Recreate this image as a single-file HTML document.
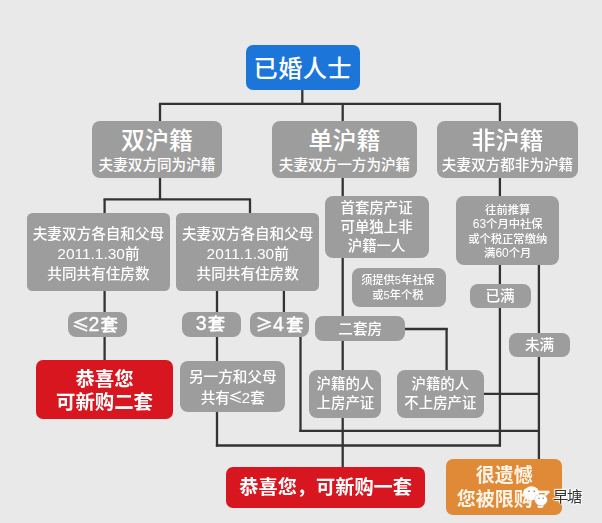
<!DOCTYPE html>
<html lang="zh-CN">
<head>
<meta charset="utf-8">
<title>已婚人士购房流程</title>
<style>
html,body{margin:0;padding:0;}
body{width:602px;height:523px;overflow:hidden;background:#e9e9e9;position:relative;font-family:"Liberation Sans", "Noto Sans CJK SC", sans-serif;}
.bx{position:absolute;box-sizing:border-box;color:#fff;text-align:center;border-radius:7px;display:flex;flex-direction:column;align-items:center;justify-content:center;white-space:nowrap;}
.c{font-family:"Noto Sans CJK SC",sans-serif;}
.g{background:#9d9d9d;}
.blue{background:#1c75d8;border-radius:7px;}
.red{background:#d8161f;}
.org{background:#e08a38;}
.bx>div{position:relative;}
.g{font-weight:500;border-radius:8px;}
.g.m{border-radius:5.5px;}
.d{font-size:1.06em;}
.t0{font-size:24.2px;font-weight:500;letter-spacing:0.4px;line-height:30px;top:1.3px;left:0px;}
.t1{font-size:24px;font-weight:500;line-height:27px;top:0.5px;}
.t2{font-size:14.6px;line-height:20px;top:1.8px;}
.m>div{font-size:14.6px;line-height:20px;top:1.7px;}
.m2>div{font-size:14.4px;line-height:19px;top:0.5px;}
.s>div{font-size:11.2px;line-height:15px;top:0.5px;left:-1.2px;}
.s2>div{font-size:11.3px;line-height:14.4px;top:1.2px;}
.n>div{font-size:17.4px;line-height:23px;top:0px;left:-1px;font-weight:500;-webkit-text-stroke:0.35px #fff;}
.n2>div{font-size:14.6px;line-height:23px;top:0.9px;}
.d2{font-size:1.12em;margin-right:1px;}
.m .c{margin-left:-1.8px;margin-right:-1.2px;}
.n .c{margin-left:-2.5px;margin-right:-0.8px;}
.ge .c{margin-right:0.2px;}
.ge .d2{margin-right:2.2px;}
.n.ge>div{left:0.9px;}
.b>div{font-size:19.4px;font-weight:700;line-height:23.3px;top:1.2px;}
.org.b>div{top:0.4px;font-size:19px;color:#fdf4e8;}
.b1>div{font-size:19.2px;font-weight:700;line-height:40px;top:0.5px;}
svg{position:absolute;left:0;top:0;}
#wrap{position:absolute;left:0;top:0;width:602px;height:523px;filter:blur(0.45px);}
.wm{position:absolute;left:553px;top:487px;font-size:15.3px;letter-spacing:-1.2px;line-height:20px;color:#333;text-shadow:0 0 2px #fff,0 0 2px #fff,1px 1px 1px #fff,-1px -1px 1px #fff;}
</style>
</head>
<body>
<div id="wrap">
<svg width="602" height="523" viewBox="0 0 602 523">
<g stroke="#333333" stroke-width="2.3" fill="none" stroke-linecap="butt">
<line x1="302.3" y1="89" x2="302.3" y2="104"/>
<line x1="158.9" y1="103.8" x2="501" y2="103.8"/>
<line x1="160" y1="103.8" x2="160" y2="122"/>
<line x1="342.7" y1="103.8" x2="342.7" y2="122"/>
<line x1="499.9" y1="103.8" x2="499.9" y2="122"/>
<line x1="160" y1="177" x2="160" y2="199.3"/>
<line x1="103.5" y1="199.3" x2="251" y2="199.3"/>
<line x1="104.6" y1="199.3" x2="104.6" y2="214"/>
<line x1="250" y1="199.3" x2="250" y2="214"/>
<line x1="104.6" y1="290" x2="104.6" y2="362"/>
<line x1="217" y1="290" x2="217" y2="446.6"/>
<line x1="215.9" y1="445.5" x2="501" y2="445.5"/>
<line x1="283.9" y1="290" x2="283.9" y2="313"/>
<line x1="300.5" y1="335" x2="300.5" y2="432"/>
<line x1="299.4" y1="430.9" x2="540" y2="430.9"/>
<line x1="342.7" y1="177" x2="342.7" y2="198"/>
<line x1="342.7" y1="256" x2="342.7" y2="468"/>
<line x1="404" y1="329" x2="447.7" y2="329"/>
<line x1="446.6" y1="328" x2="446.6" y2="371"/>
<line x1="499.9" y1="177" x2="499.9" y2="198"/>
<line x1="499.9" y1="264" x2="499.9" y2="446.5"/>
<line x1="538.9" y1="264" x2="538.9" y2="461"/>
<line x1="483" y1="393.8" x2="539.9" y2="393.8"/>
</g></svg>
<div class="bx blue" style="left:246px;top:45.4px;width:113.6px;height:44.4px;"><div class="t0">已婚人士</div></div>
<div class="bx g" style="left:92px;top:121px;width:130px;height:57px;"><div class="t1">双沪籍</div><div class="t2">夫妻双方同为沪籍</div></div>
<div class="bx g" style="left:272px;top:121px;width:145px;height:57px;"><div class="t1">单沪籍</div><div class="t2">夫妻双方一方为沪籍</div></div>
<div class="bx g" style="left:437px;top:121px;width:141px;height:57px;"><div class="t1">非沪籍</div><div class="t2">夫妻双方都非为沪籍</div></div>
<div class="bx g m" style="left:27.2px;top:213.3px;width:142.5px;height:77.5px;"><div>夫妻双方各自和父母<br><span class="d">2011.1.30</span>前<br>共同共有住房数</div></div>
<div class="bx g m" style="left:176.1px;top:213.3px;width:143.2px;height:77.5px;"><div>夫妻双方各自和父母<br><span class="d">2011.1.30</span>前<br>共同共有住房数</div></div>
<div class="bx g m2" style="left:324.5px;top:196px;width:104.1px;height:61.7px;"><div>首套房产证<br>可单独上非<br>沪籍一人</div></div>
<div class="bx g s" style="left:351.6px;top:268px;width:94.9px;height:38.7px;"><div>须提供5年社保<br>或5年个税</div></div>
<div class="bx g s2" style="left:456px;top:196.2px;width:103.4px;height:68.7px;"><div>往前推算<br><span class="d">63</span>个月中社保<br>或个税正常缴纳<br>满<span class="d">60</span>个月</div></div>
<div class="bx g n" style="left:67.7px;top:311.8px;width:58.9px;height:25.0px;"><div><span class="c">≤</span><span class="d2">2</span>套</div></div>
<div class="bx g n" style="left:182px;top:311.8px;width:58.9px;height:24.8px;"><div><span class="d2">3</span>套</div></div>
<div class="bx g n ge" style="left:250.3px;top:311.8px;width:58.9px;height:24.8px;"><div><span class="c">≥</span><span class="d2">4</span>套</div></div>
<div class="bx g n2" style="left:315.3px;top:316.4px;width:89.8px;height:24.4px;"><div>二套房</div></div>
<div class="bx g n2" style="left:469.5px;top:284.2px;width:61.1px;height:23.6px;"><div>已满</div></div>
<div class="bx g n2" style="left:509px;top:333.2px;width:61px;height:23.8px;"><div>未满</div></div>
<div class="bx red b" style="left:35.7px;top:360.3px;width:137.7px;height:58.7px;"><div>恭喜您<br>可新购二套</div></div>
<div class="bx g m" style="left:180.4px;top:360.6px;width:104.8px;height:51.0px;border-radius:8px;"><div>另一方和父母<br>共有<span class="c">≤</span><span class="d">2</span>套</div></div>
<div class="bx g m2" style="left:309.4px;top:369.6px;width:72.0px;height:48.4px;"><div>沪籍的人<br>上房产证</div></div>
<div class="bx g m2" style="left:397px;top:369.6px;width:86.7px;height:48.4px;"><div>沪籍的人<br>不上房产证</div></div>
<div class="bx red b1" style="left:226px;top:467px;width:199.3px;height:40.8px;"><div>恭喜您，可新购一套</div></div>
<div class="bx org b" style="left:446.3px;top:459.4px;width:116.1px;height:55.9px;"><div>很遗憾<br>您被限购了</div></div>
<svg width="602" height="523" viewBox="0 0 602 523" style="pointer-events:none"><ellipse cx="531.5" cy="493.3" rx="7.6" ry="7.1" fill="#fff" opacity="0.96"/><ellipse cx="541" cy="499.8" rx="6.3" ry="5.8" fill="#fff" stroke="#bbb" stroke-width="0.5"/><circle cx="529" cy="491.2" r="0.8" fill="#777"/><circle cx="534.3" cy="491.2" r="0.8" fill="#777"/><circle cx="539" cy="498.3" r="0.7" fill="#777"/><circle cx="543.2" cy="498.3" r="0.7" fill="#777"/></svg>
<div class="wm">早塘</div>
</div>
</body></html>
